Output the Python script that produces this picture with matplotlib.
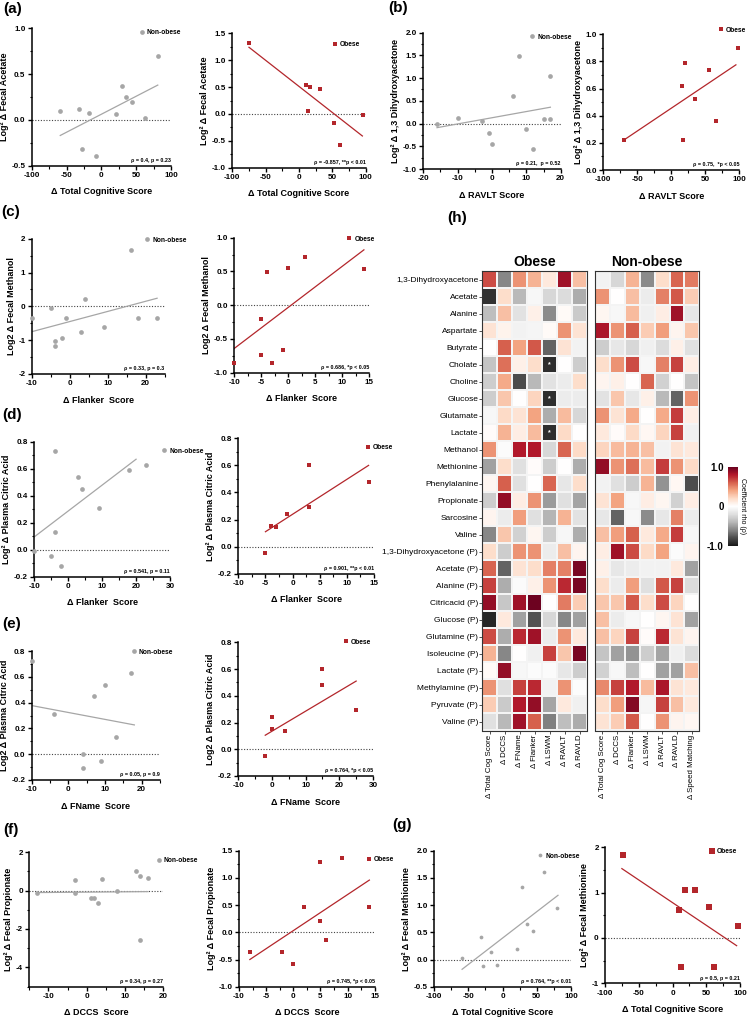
import matplotlib
matplotlib.use('Agg')
import matplotlib.pyplot as plt
from matplotlib.ticker import AutoMinorLocator, FormatStrFormatter
import numpy as np

plt.rcParams['font.family'] = ['Liberation Sans', 'DejaVu Sans']
plt.rcParams['font.weight'] = 'bold'

GRIS = '#a6a6a6'
ROJO = '#b3262b'
W, H = 750, 1017

# ---------------- datos de dispersion ----------------
# (a) acetato fecal vs total cognitive score
a_no_x = [-59, -32, -18, -28, -8, 21, 30, 35, 44, 62, 81]
a_no_y = [0.10, 0.12, 0.07, -0.32, -0.39, 0.06, 0.37, 0.25, 0.20, 0.02, 0.70]
a_no_fit_x = [-59, 81]
a_no_fit_y = [-0.17, 0.38]
a_ob_x = [-75, 11, 17, 31, 14, 52, 61, 96]
a_ob_y = [1.32, 0.53, 0.50, 0.46, 0.05, -0.17, -0.58, -0.02]
a_ob_fit_x = [-75, 95]
a_ob_fit_y = [1.24, -0.41]

# (b) 1,3 dihidroxiacetona vs RAVLT
b_no_x = [-16, -10, -3, -1, 0, 6, 8, 10, 12, 15, 17, 17]
b_no_y = [0.0, 0.12, 0.05, -0.2, -0.45, 0.6, 1.49, -0.11, -0.55, 0.09, 0.1, 1.05]
b_no_fit_x = [-16, 17]
b_no_fit_y = [-0.09, 0.36]
b_ob_x = [-70, 15, 20, 17, 35, 55, 65, 98]
b_ob_y = [0.22, 0.62, 0.79, 0.22, 0.52, 0.74, 0.36, 0.90]
b_ob_fit_x = [-70, 95]
b_ob_fit_y = [0.22, 0.775]

# (c) metanol fecal vs flanker
c_no_x = [-10, -5, -4, -4, -2, -1, 3, 4, 9, 16, 18, 23]
c_no_y = [-0.33, -0.04, -1.02, -1.17, -0.95, -0.35, -0.77, 0.21, -0.61, 1.66, -0.33, -0.34]
c_no_fit_x = [-10, 23]
c_no_fit_y = [-0.75, 0.24]
c_ob_x = [-10, -5, -5, -4, -3, -1, 0, 3, 14]
c_ob_y = [-0.85, -0.74, -0.2, 0.49, -0.86, -0.66, 0.55, 0.71, 0.53]
c_ob_fit_x = [-10, 14]
c_ob_fit_y = [-0.64, 0.82]

# (d) acido citrico plasma vs flanker
d_no_x = [-10, -5, -4, -4, -2, 3, 4, 9, 18, 23]
d_no_y = [-0.01, -0.05, 0.73, 0.13, -0.12, 0.54, 0.45, 0.31, 0.59, 0.63]
d_no_fit_x = [-10, 20]
d_no_fit_y = [0.094, 0.67]
d_ob_x = [-5, -4, -3, -1, 3, 3, 14]
d_ob_y = [-0.05, 0.15, 0.145, 0.24, 0.60, 0.295, 0.48]
d_ob_fit_x = [-5, 14]
d_ob_fit_y = [0.11, 0.60]

# (e) acido citrico plasma vs FName
e_no_x = [-10, -4, 7, 10, 13, 17, 4, 4, 9]
e_no_y = [0.725, 0.31, 0.45, 0.54, 0.13, 0.63, 0.0, -0.11, -0.05]
e_no_fit_x = [-10, 18]
e_no_fit_y = [0.377, 0.227]
e_ob_x = [-2, 0, 0, 4, 15, 15, 25]
e_ob_y = [-0.05, 0.24, 0.15, 0.14, 0.60, 0.48, 0.29]
e_ob_fit_x = [-2, 25]
e_ob_fit_y = [0.105, 0.51]

# (f) propionato fecal vs DCCS
f_no_x = [-13, -3, -3, 1, 2, 3, 4, 8, 13, 14, 14, 16]
f_no_y = [-0.12, 0.57, -0.12, -0.37, -0.40, -0.63, 0.63, -0.03, 1.0, 0.75, -2.6, 0.66]
f_no_fit_x = [-13, 16]
f_no_fit_y = [-0.10, -0.05]
f_ob_x = [-8, -2, 0, 2, 5, 5, 6, 9, 14]
f_ob_y = [-0.37, -0.36, -0.58, 0.46, 0.21, 1.29, -0.14, 1.37, 0.46]
f_ob_fit_x = [-8, 14]
f_ob_fit_y = [-0.5, 0.96]

# (g) metionina fecal vs total cognitive score
g_no_x = [-59, -31, -28, -17, -8, 21, 29, 36, 44, 61, 80]
g_no_y = [0.02, 0.41, -0.12, 0.14, -0.10, 0.20, 1.33, 0.65, 0.52, 1.60, 0.95]
g_no_fit_x = [-59, 81]
g_no_fit_y = [-0.18, 1.18]
g_ob_x = [-73, 13, 18, 33, 10, 54, 62, 97]
g_ob_y = [1.82, -0.65, 1.06, 1.06, 0.61, 0.68, -0.65, 0.27]
g_ob_fit_x = [-75, 95]
g_ob_fit_y = [1.53, -0.17]

# ---------------- datos del mapa de calor (h) ----------------
metabolitos = ['1,3-Dihydroxyacetone', 'Acetate', 'Alanine', 'Aspartate', 'Butyrate',
               'Cholate', 'Choline', 'Glucose', 'Glutamate', 'Lactate', 'Methanol',
               'Methionine', 'Phenylalanine', 'Propionate', 'Sarcosine', 'Valine',
               '1,3-Dihydroxyacetone (P)', 'Acetate (P)', 'Alanine (P)', 'Citricacid (P)',
               'Glucose (P)', 'Glutamine (P)', 'Isoleucine (P)', 'Lactate (P)',
               'Methylamine (P)', 'Pyruvate (P)', 'Valine (P)']

cols_obese = ['Δ Total Cog Score', 'Δ DCCS', 'Δ FName', 'Δ Flanker', 'Δ LSWM', 'Δ RAVLT', 'Δ RAVLD']
cols_nonobese = ['Δ Total Cog Score', 'Δ DCCS', 'Δ Flanker', 'Δ LSWM', 'Δ RAVLT', 'Δ RAVLD', 'Δ Speed Matching']

rho_obese = [
    [0.65, -0.6, 0.45, 0.35, 0.12, 0.85, 0.3],
    [-0.9, 0.18, -0.4, -0.05, -0.25, -0.22, -0.45],
    [-0.38, 0.3, -0.18, 0.08, -0.58, 0.03, -0.32],
    [0.15, 0.07, -0.08, -0.07, 0.03, 0.45, 0.15],
    [0.0, 0.6, 0.4, 0.62, -0.72, 0.15, -0.08],
    [-0.35, 0.55, 0.08, 0.18, -0.92, 0.0, -0.3],
    [-0.3, 0.38, -0.8, -0.4, -0.18, -0.12, 0.18],
    [-0.3, 0.28, 0.0, 0.22, -0.92, -0.12, -0.12],
    [-0.05, 0.2, 0.15, 0.4, -0.45, 0.32, -0.25],
    [0.02, 0.35, 0.1, 0.32, -0.92, 0.2, 0.0],
    [0.45, -0.03, 0.8, 0.8, -0.25, 0.58, 0.2],
    [-0.5, 0.18, -0.2, 0.02, -0.3, 0.0, -0.45],
    [0.05, 0.6, -0.2, 0.0, 0.58, -0.15, 0.18],
    [-0.3, 0.88, 0.1, 0.45, -0.52, -0.2, -0.48],
    [0.06, -0.12, 0.42, -0.2, -0.42, 0.35, -0.18],
    [-0.6, 0.28, -0.28, 0.05, -0.3, -0.05, -0.45],
    [0.18, -0.3, 0.45, 0.45, -0.12, 0.3, 0.06],
    [0.58, -0.72, 0.15, 0.18, 0.5, 0.5, 0.95],
    [0.68, -0.45, -0.03, 0.08, 0.45, 0.75, 0.95],
    [0.88, -0.33, 0.85, 0.98, 0.0, 0.52, 0.25],
    [-0.95, 0.12, -0.5, -0.78, -0.25, -0.6, -0.5],
    [0.65, -0.45, 0.75, 0.85, -0.12, 0.45, 0.12],
    [0.35, -0.6, 0.0, -0.1, 0.68, 0.28, 0.95],
    [0.03, 0.88, -0.05, -0.03, -0.03, -0.15, -0.3],
    [0.45, -0.2, 0.68, 0.75, -0.08, 0.45, -0.02],
    [0.25, -0.32, 0.8, 0.88, -0.48, 0.12, -0.1],
    [-0.2, -0.4, 0.85, 0.6, -0.62, -0.38, -0.45],
]

rho_nonobese = [
    [-0.08, -0.25, 0.35, -0.58, 0.18, 0.58, 0.52],
    [0.45, 0.0, 0.3, -0.12, 0.5, 0.62, 0.25],
    [0.05, -0.05, 0.32, -0.1, 0.1, 0.85, -0.15],
    [0.82, 0.45, 0.6, 0.25, 0.42, 0.06, 0.28],
    [-0.3, -0.15, -0.25, -0.1, -0.22, 0.08, -0.2],
    [0.18, 0.45, 0.65, -0.05, 0.5, 0.68, 0.1],
    [0.06, 0.08, 0.0, 0.58, -0.28, 0.0, -0.35],
    [-0.18, 0.28, -0.15, 0.08, -0.4, -0.72, 0.45],
    [0.45, 0.15, 0.38, 0.0, 0.38, 0.7, 0.1],
    [0.12, 0.02, 0.2, 0.04, 0.22, 0.68, -0.1],
    [0.22, 0.32, 0.35, 0.3, -0.08, 0.15, 0.12],
    [0.88, 0.45, 0.55, 0.32, 0.7, 0.45, 0.2],
    [-0.08, -0.2, -0.3, 0.35, -0.55, 0.04, -0.8],
    [0.15, 0.4, -0.05, 0.1, 0.05, -0.28, 0.1],
    [-0.15, -0.72, -0.05, -0.58, -0.15, 0.5, -0.12],
    [0.3, 0.42, 0.6, 0.12, 0.38, 0.7, -0.05],
    [0.1, 0.85, 0.65, 0.2, 0.4, -0.03, 0.06],
    [0.08, -0.15, -0.12, -0.08, -0.08, 0.12, -0.5],
    [0.18, -0.12, 0.42, -0.2, 0.62, 0.68, -0.22],
    [0.28, 0.28, 0.62, 0.18, 0.65, 0.22, 0.0],
    [0.3, -0.12, -0.05, 0.0, 0.05, 0.15, -0.5],
    [0.3, 0.22, 0.68, 0.02, 0.75, 0.15, 0.06],
    [-0.35, -0.5, -0.55, -0.3, -0.48, -0.1, -0.22],
    [-0.28, -0.05, -0.38, 0.0, -0.5, -0.5, 0.3],
    [0.48, 0.68, 0.8, 0.32, 0.82, 0.15, 0.12],
    [0.18, 0.42, 0.92, -0.06, 0.68, 0.3, 0.12],
    [0.15, 0.25, 0.62, 0.0, 0.45, 0.06, 0.04],
]

# celdas significativas (obesos, columna LSWM)
sig_obese_metab = ['Cholate', 'Glucose', 'Lactate']
sig_obese_col = 'Δ LSWM'


def caja(x0, y0, x1, y1):
    # pixeles -> fraccion de figura
    return [x0 / W, 1 - y1 / H, (x1 - x0) / W, (y1 - y0) / H]


fig = plt.figure(figsize=(7.5, 10.17), dpi=100)


def panel_dispersion(rect, x, y, fit_x, fit_y, grupo, xlim, xticks, ylim, yticks,
                     xfmt, yfmt, xlabel, ylabel, stat, leg_pos, ms):
    ax = fig.add_axes(caja(*rect))
    color = GRIS if grupo == 'Non-obese' else ROJO
    marker = 'o' if grupo == 'Non-obese' else 's'

    ax.axhline(0, color='#444444', ls=(0, (1, 1.5)), lw=0.8, zorder=1)
    ax.plot(fit_x, fit_y, color=color, lw=0.9, zorder=2)
    ax.plot(x, y, ls='none', marker=marker, color=color, ms=ms, mew=0,
            zorder=3, clip_on=False, label=grupo)

    ax.set_xlim(xlim)
    ax.set_ylim(ylim)
    ax.set_xticks(xticks)
    ax.set_yticks(yticks)
    ax.xaxis.set_major_formatter(FormatStrFormatter(xfmt))
    ax.yaxis.set_major_formatter(FormatStrFormatter(yfmt))
    ax.xaxis.set_minor_locator(AutoMinorLocator(2))
    ax.yaxis.set_minor_locator(AutoMinorLocator(2))

    for s in ['top', 'right']:
        ax.spines[s].set_visible(False)
    for s in ['left', 'bottom']:
        ax.spines[s].set_linewidth(1.1)
    ax.tick_params(which='major', length=3, width=1.0, labelsize=5.8, pad=1.5)
    ax.tick_params(which='minor', length=1.8, width=0.8)

    ax.set_xlabel(xlabel, fontsize=6.5, fontweight='bold', labelpad=6)
    ax.set_ylabel(ylabel, fontsize=6.5, fontweight='bold', labelpad=2)

    ax.text(1.0, 0.02, stat, transform=ax.transAxes, ha='right', va='bottom',
            fontsize=3.9, fontweight='bold')
    ax.legend(loc='center left', bbox_to_anchor=leg_pos, frameon=False,
              fontsize=4.8, handlelength=0.7, handletextpad=0.4,
              borderpad=0, borderaxespad=0)
    return ax


# (a)
panel_dispersion((31.7, 28.3, 171, 165.7), a_no_x, a_no_y, a_no_fit_x, a_no_fit_y, 'Non-obese',
                 (-100, 100), [-100, -50, 0, 50, 100], (-0.5, 1.0), [-0.5, 0.0, 0.5, 1.0],
                 '%d', '%.1f', 'Δ Total Cognitive Score', 'Log² Δ Fecal Acetate',
                 'ρ = 0.4, p = 0.23', (0.775, 0.967), 3.4)
panel_dispersion((232.3, 33.3, 365.7, 167.7), a_ob_x, a_ob_y, a_ob_fit_x, a_ob_fit_y, 'Obese',
                 (-100, 100), [-100, -50, 0, 50, 100], (-1.0, 1.5), [-1.0, -0.5, 0.0, 0.5, 1.0, 1.5],
                 '%d', '%.1f', 'Δ Total Cognitive Score', 'Log² Δ Fecal Acetate',
                 'ρ = -0.857, **p < 0.01', (0.75, 0.913), 3.0)

# (b)
panel_dispersion((423.3, 32.7, 560.7, 169), b_no_x, b_no_y, b_no_fit_x, b_no_fit_y, 'Non-obese',
                 (-20, 20), [-20, -10, 0, 10, 20], (-1.0, 2.0), [-1.0, -0.5, 0.0, 0.5, 1.0, 1.5, 2.0],
                 '%d', '%.1f', 'Δ RAVLT Score', 'Log² Δ 1,3 Dihydroxyacetone',
                 'ρ = 0.21,  p = 0.52', (0.775, 0.967), 3.4)
panel_dispersion((603.3, 34.3, 739.3, 170), b_ob_x, b_ob_y, b_ob_fit_x, b_ob_fit_y, 'Obese',
                 (-100, 100), [-100, -50, 0, 50, 100], (0.0, 1.0), [0.0, 0.2, 0.4, 0.6, 0.8, 1.0],
                 '%d', '%.1f', 'Δ RAVLT Score', 'Log² Δ 1,3 Dihydroxyacetone',
                 'ρ = 0.75,  *p < 0.05', (0.85, 1.03), 3.0)

# (c)
panel_dispersion((31.7, 238.7, 164.7, 374), c_no_x, c_no_y, c_no_fit_x, c_no_fit_y, 'Non-obese',
                 (-10, 25), [-10, 0, 10, 20], (-2, 2), [-2, -1, 0, 1, 2],
                 '%d', '%d', 'Δ Flanker  Score', 'Log2 Δ Fecal Methanol',
                 'ρ = 0.33, p = 0.3', (0.85, 0.99), 3.4)
panel_dispersion((234.3, 237.7, 369.3, 372.7), c_ob_x, c_ob_y, c_ob_fit_x, c_ob_fit_y, 'Obese',
                 (-10, 15), [-10, -5, 0, 5, 10, 15], (-1.0, 1.0), [-1.0, -0.5, 0.0, 0.5, 1.0],
                 '%d', '%.1f', 'Δ Flanker  Score', 'Log2 Δ Fecal Methanol',
                 'ρ = 0.686, *p < 0.05', (0.836, 0.99), 3.0)

# (d)
panel_dispersion((34.3, 441.7, 170, 576.5), d_no_x, d_no_y, d_no_fit_x, d_no_fit_y, 'Non-obese',
                 (-10, 30), [-10, 0, 10, 20, 30], (-0.2, 0.8), [-0.2, 0.0, 0.2, 0.4, 0.6, 0.8],
                 '%d', '%.1f', 'Δ Flanker  Score', 'Log² Δ Plasma Citric Acid',
                 'ρ = 0.541, p = 0.11', (0.94, 0.93), 3.4)
panel_dispersion((238.3, 438.3, 374, 573.7), d_ob_x, d_ob_y, d_ob_fit_x, d_ob_fit_y, 'Obese',
                 (-10, 15), [-10, -5, 0, 5, 10, 15], (-0.2, 0.8), [-0.2, 0.0, 0.2, 0.4, 0.6, 0.8],
                 '%d', '%.1f', 'Δ Flanker  Score', 'Log² Δ Plasma Citric Acid',
                 'ρ = 0.901, **p < 0.01', (0.94, 0.93), 3.0)

# (e)
panel_dispersion((31.7, 651, 160, 780), e_no_x, e_no_y, e_no_fit_x, e_no_fit_y, 'Non-obese',
                 (-10, 25), [-10, 0, 10, 20], (-0.2, 0.8), [-0.2, 0.0, 0.2, 0.4, 0.6, 0.8],
                 '%d', '%.1f', 'Δ FName  Score', 'Log2 Δ Plasma Citric Acid',
                 'ρ = 0.05, p = 0.9', (0.777, 0.99), 3.4)
panel_dispersion((238.3, 642.3, 373, 776), e_ob_x, e_ob_y, e_ob_fit_x, e_ob_fit_y, 'Obese',
                 (-10, 30), [-10, 0, 10, 20, 30], (-0.2, 0.8), [-0.2, 0.0, 0.2, 0.4, 0.6, 0.8],
                 '%d', '%.1f', 'Δ FName  Score', 'Log2 Δ Plasma Citric Acid',
                 'ρ = 0.764, *p < 0.05', (0.78, 1.0), 3.0)

# (f)
panel_dispersion((29.2, 852.3, 163.3, 986.5), f_no_x, f_no_y, f_no_fit_x, f_no_fit_y, 'Non-obese',
                 (-15, 20), [-10, 0, 10, 20], (-5, 2), [-4, -2, 0, 2],
                 '%d', '%d', 'Δ DCCS  Score', 'Log² Δ Fecal Propionate',
                 'ρ = 0.34, p = 0.27', (0.95, 0.939), 3.4)
panel_dispersion((239, 850.7, 374.8, 986.7), f_ob_x, f_ob_y, f_ob_fit_x, f_ob_fit_y, 'Obese',
                 (-10, 15), [-10, -5, 0, 5, 10, 15], (-1.0, 1.5), [-1.0, -0.5, 0.0, 0.5, 1.0, 1.5],
                 '%d', '%.1f', 'Δ DCCS  Score', 'Log² Δ Fecal Propionate',
                 'ρ = 0.745, *p < 0.05', (0.94, 0.932), 3.0)

# (g)
panel_dispersion((434, 850.7, 571, 986.7), g_no_x, g_no_y, g_no_fit_x, g_no_fit_y, 'Non-obese',
                 (-100, 100), [-100, -50, 0, 50, 100], (-0.5, 2.0), [-0.5, 0.0, 0.5, 1.0, 1.5, 2.0],
                 '%d', '%.1f', 'Δ Total Cognitive Score', 'Log² Δ Fecal Methionine',
                 'ρ = 0.764, **p < 0.01', (0.76, 0.96), 2.7)
panel_dispersion((605, 847.3, 740, 983.3), g_ob_x, g_ob_y, g_ob_fit_x, g_ob_fit_y, 'Obese',
                 (-100, 100), [-100, -50, 0, 50, 100], (-1, 2), [-1, 0, 1, 2],
                 '%d', '%d', 'Δ Total Cognitive Score', 'Log² Δ Fecal Methionine',
                 'ρ = 0.5, p = 0.21', (0.775, 0.967), 4.2)


# ---------------- (h) mapa de calor ----------------
def mapa_calor(rect, valores, columnas, titulo, con_filas):
    ax = fig.add_axes(caja(*rect))
    m = ax.pcolormesh(np.array(valores), cmap='RdGy_r', vmin=-1, vmax=1,
                      edgecolors='#f4f4f4', linewidth=0.3)
    ax.set_xlim(0, len(columnas))
    ax.set_ylim(len(metabolitos), 0)
    ax.set_xticks(np.arange(len(columnas)) + 0.5)
    ax.set_xticklabels(columnas, rotation=90, fontsize=5.7, fontweight='normal')
    if con_filas:
        ax.set_yticks(np.arange(len(metabolitos)) + 0.5)
        ax.set_yticklabels(metabolitos, fontsize=6, fontweight='normal')
    else:
        ax.set_yticks([])
    ax.tick_params(length=2, width=0.6, pad=1, color='#333333')
    for sp in ax.spines.values():
        sp.set_linewidth(0.8)
        sp.set_color('#333333')
    ax.set_title(titulo, fontsize=10, fontweight='bold', pad=4)
    return ax, m


ax_ob, malla = mapa_calor((482.3, 271.5, 587.3, 730.5), rho_obese, cols_obese, 'Obese', True)
mapa_calor((595, 271.5, 699.3, 730.5), rho_nonobese, cols_nonobese, 'Non-obese', False)

j = cols_obese.index(sig_obese_col)
for nombre in sig_obese_metab:
    i = metabolitos.index(nombre)
    ax_ob.text(j + 0.5, i + 0.5, '*', color='white', ha='center', va='center',
               fontsize=5, fontweight='bold')

cax = fig.add_axes(caja(728, 466.7, 738, 545.7))
cb = fig.colorbar(malla, cax=cax, ticks=[-1, 0, 1])
cb.outline.set_visible(False)
cb.ax.yaxis.set_ticks_position('left')
cb.ax.set_yticklabels(['-1.0', '0', '1.0'], fontsize=7, fontweight='bold')
cb.ax.tick_params(length=0, pad=3)
cb.ax.yaxis.set_label_position('right')
cb.set_label('Coefficient rho (ρ)', rotation=270, fontsize=5, fontweight='normal', labelpad=6)

# etiquetas de panel
for letra, (px, py) in {'(a)': (3, 9), '(b)': (388, 8), '(c)': (1, 212), '(d)': (2, 415),
                        '(e)': (2, 624), '(f)': (3, 830), '(g)': (392, 825),
                        '(h)': (447, 218)}.items():
    fig.text(px / W, 1 - py / H, letra, fontsize=11, fontweight='bold', va='center', ha='left')

fig.savefig('out.png', dpi=100)
